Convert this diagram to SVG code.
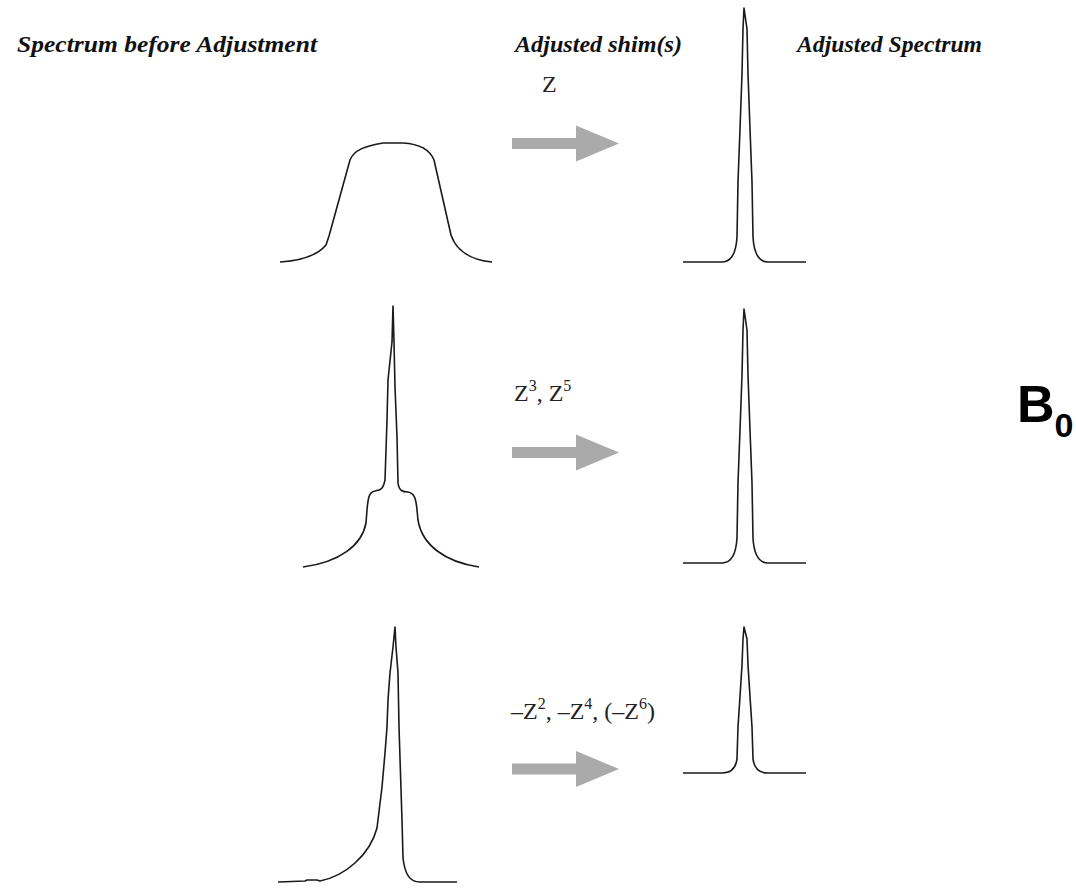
<svg xmlns="http://www.w3.org/2000/svg" xmlns:xlink="http://www.w3.org/1999/xlink" width="1076" height="895" viewBox="0 0 1076 895">
<style>
.hdr{font-family:"Liberation Serif",serif;font-weight:bold;font-style:italic;font-size:24px;fill:#111}
.lbl{font-family:"Liberation Serif",serif;font-size:24px;fill:#222}
.sup{font-size:16px}
.spec{fill:none;stroke:#1a1a1a;stroke-width:1.6;stroke-linejoin:round}
.arr{fill:#aaaaaa}
.b0{font-family:"Liberation Sans",Arial,sans-serif;font-weight:bold;fill:#000}
</style>
<defs>
<path id="arrow" d="M0,-5.5 H64 V-18 L107,0 L64,18 V5.5 H0 Z"/>
<path id="peak" d="M-61,0 L-22,0 C-13,0 -8,-8 -7,-25 L-6,-80 L-4,-133 L-2,-188 L-1,-233 L0,-254 L3,-233 L4,-188 L6,-133 L8,-80 L9,-25 C10,-8 15,0 24,0 L62,0"/>
</defs>
<rect width="1076" height="895" fill="#fff"/>
<g id="headers">
<text class="hdr" x="17" y="52" textLength="300" lengthAdjust="spacingAndGlyphs">Spectrum before Adjustment</text>
<text class="hdr" x="515" y="52" textLength="167" lengthAdjust="spacingAndGlyphs">Adjusted shim(s)</text>
<text class="hdr" x="797" y="52" textLength="185" lengthAdjust="spacingAndGlyphs">Adjusted Spectrum</text>
</g>
<g id="spectrum-before-1">
<path class="spec" d="M280,262 C296,261 316,257 326,245 L329,236 L350,160 C354,150 365,146 383,143 L403,143 C420,144 430,150 434,160 L451,235 C456,250 470,260 492,262"/>
</g>
<g id="spectrum-before-2">
<path class="spec" d="M303,567 C340,562 362,545 366,523 L367,510 C368,498 369,492 375,491 C380,490 383,490 385,480 L387,420 L388,380 L392,342 L393,306 L394,342 L395,387 L397,437 L398,483 C399,491 403,492 408,492 C414,493 416,498 417,510 L418,520 C422,545 445,562 479,567"/>
</g>
<g id="spectrum-before-3">
<path class="spec" d="M278,882 L305,881 L307,880 L317,880 L320,881 C345,876 370,855 377,828 L382,787 L385,753 L387,727 L388,700 L390,673 L393,647 L395,627 L396,647 L398,673 L399,727 L402,820 L403,858 C405,875 410,882 420,882 L457,882"/>
</g>
<g id="spectrum-after-1">
<use xlink:href="#peak" class="spec" transform="translate(744,262)"/>
</g>
<g id="spectrum-after-2">
<use xlink:href="#peak" class="spec" transform="translate(744,563)"/>
</g>
<g id="spectrum-after-3">
<path class="spec" d="M683,773 L722,773 C731,773 736,768 737,758.6 L738,727 L740,696.5 L742,665 L743,639 L744,627 L747,639 L748,665 L750,696.5 L752,727 L753,758.6 C754,768 759,773 768,773 L806,773"/>
</g>
<g id="label-1">
<text class="lbl" x="542" y="92">Z</text>
</g>
<g id="label-2">
<text class="lbl" x="514" y="401">Z<tspan class="sup" dy="-10">3</tspan><tspan dy="10">, Z</tspan><tspan class="sup" dy="-10">5</tspan></text>
</g>
<g id="label-3">
<text class="lbl" x="511" y="719">–Z<tspan class="sup" dy="-10">2</tspan><tspan dy="10">, –Z</tspan><tspan class="sup" dy="-10">4</tspan><tspan dy="10">, (–Z</tspan><tspan class="sup" dy="-10">6</tspan><tspan dy="10">)</tspan></text>
</g>
<g id="connectors">
<use xlink:href="#arrow" class="arr" transform="translate(512,143.5)"/>
<use xlink:href="#arrow" class="arr" transform="translate(512,452.5)"/>
<use xlink:href="#arrow" class="arr" transform="translate(512,769)"/>
</g>
<g id="b0-label">
<text class="b0" x="1017" y="422" font-size="52">B<tspan font-size="34" dy="15">0</tspan></text>
</g>
</svg>
